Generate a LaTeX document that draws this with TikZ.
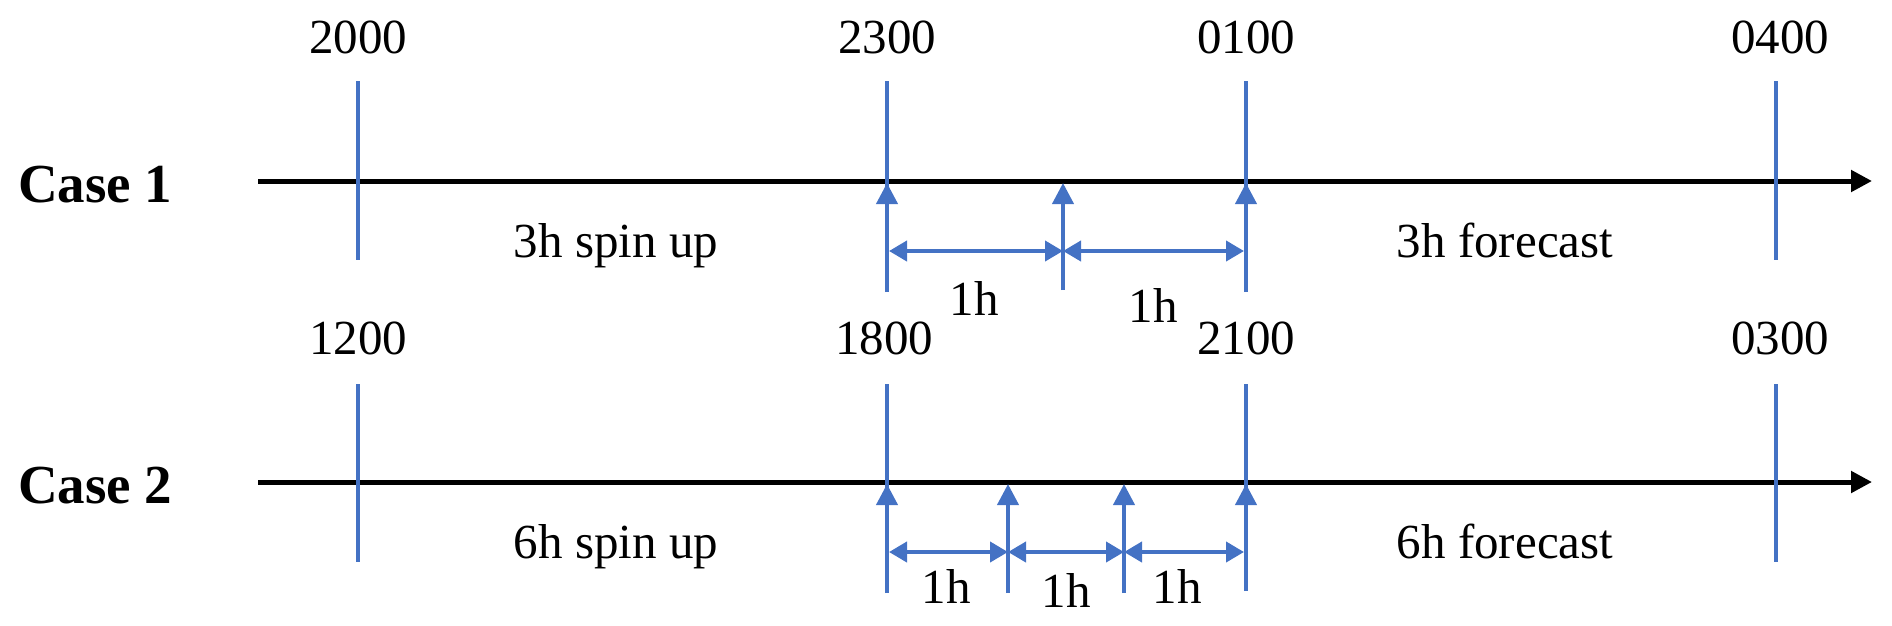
\documentclass[tikz,border=0pt]{standalone}
\usepackage{fontspec}
\setmainfont{Liberation Serif}
\usetikzlibrary{arrows.meta}
\definecolor{tickblue}{HTML}{4472C4}
\begin{document}
\begin{tikzpicture}[x=1pt,y=-1pt,
  lbl/.style={inner sep=0pt, anchor=base, font=\fontsize{49}{58}\selectfont},
  casel/.style={inner sep=0pt, anchor=base west, font=\fontsize{55}{64}\selectfont\bfseries},
  axisline/.style={line width=5pt, black, -{Triangle[length=21pt,width=21pt]}},
  tickline/.style={line width=4pt, tickblue},
  uparrow/.style={line width=4pt, tickblue, -{Triangle[length=21pt,width=21pt]}},
  spanarrow/.style={line width=4pt, tickblue, {Triangle[length=18pt,width=20pt]}-{Triangle[length=18pt,width=20pt]}},
]
\useasboundingbox (0,0) rectangle (1892,625);

% ---------------- Case 1 ----------------
\node[casel] (case1) at (18,202) {Case 1};
\coordinate (a1s) at (258,181);
\coordinate (a1e) at (1872,181);
\draw[axisline] (a1s) -- (a1e);

\coordinate (t1aT) at (358,81);  \coordinate (t1aB) at (358,260);
\coordinate (t1bT) at (887,81);  \coordinate (t1bB) at (887,292);
\coordinate (t1cT) at (1246,81); \coordinate (t1cB) at (1246,292);
\coordinate (t1dT) at (1776,81); \coordinate (t1dB) at (1776,260);
\draw[tickline] (t1aT) -- (t1aB);
\draw[tickline] (t1bT) -- (t1bB);
\draw[tickline] (t1cT) -- (t1cB);
\draw[tickline] (t1dT) -- (t1dB);

\coordinate (u1aB) at (887,292);  \coordinate (u1aT) at (887,183);
\coordinate (u1bB) at (1063,290); \coordinate (u1bT) at (1063,183);
\coordinate (u1cB) at (1246,292); \coordinate (u1cT) at (1246,183);
\draw[uparrow] (u1aB) -- (u1aT);
\draw[uparrow] (u1bB) -- (u1bT);
\draw[uparrow] (u1cB) -- (u1cT);

\coordinate (h1a) at (889,251);
\coordinate (h1b) at (1063,251);
\coordinate (h1c) at (1244,251);
\draw[spanarrow] (h1a) -- (h1b);
\draw[spanarrow] (h1b) -- (h1c);

\node[lbl] (l2000) at (358,53) {2000};
\node[lbl] (l2300) at (887,53) {2300};
\node[lbl] (l0100) at (1246,53) {0100};
\node[lbl] (l0400) at (1780,53) {0400};
\node[lbl] (spin1) at (616,257) {3h spin up};
\node[lbl] (fc1) at (1505,257) {3h forecast};
\node[lbl] (h1l) at (974,315) {1h};
\node[lbl] (h1r) at (1153,322) {1h};

% ---------------- Case 2 ----------------
\node[casel] (case2) at (18,503) {Case 2};
\coordinate (a2s) at (258,482);
\coordinate (a2e) at (1872,482);
\draw[axisline] (a2s) -- (a2e);

\coordinate (t2aT) at (358,384);  \coordinate (t2aB) at (358,562);
\coordinate (t2bT) at (887,384);  \coordinate (t2bB) at (887,593);
\coordinate (t2cT) at (1246,384); \coordinate (t2cB) at (1246,591);
\coordinate (t2dT) at (1776,384); \coordinate (t2dB) at (1776,562);
\draw[tickline] (t2aT) -- (t2aB);
\draw[tickline] (t2bT) -- (t2bB);
\draw[tickline] (t2cT) -- (t2cB);
\draw[tickline] (t2dT) -- (t2dB);

\coordinate (u2aB) at (887,593);  \coordinate (u2aT) at (887,484);
\coordinate (u2bB) at (1008,593); \coordinate (u2bT) at (1008,484);
\coordinate (u2cB) at (1124,593); \coordinate (u2cT) at (1124,484);
\coordinate (u2dB) at (1246,591); \coordinate (u2dT) at (1246,484);
\draw[uparrow] (u2aB) -- (u2aT);
\draw[uparrow] (u2bB) -- (u2bT);
\draw[uparrow] (u2cB) -- (u2cT);
\draw[uparrow] (u2dB) -- (u2dT);

\coordinate (h2a) at (889,552);
\coordinate (h2b) at (1008,552);
\coordinate (h2c) at (1124,552);
\coordinate (h2d) at (1244,552);
\draw[spanarrow] (h2a) -- (h2b);
\draw[spanarrow] (h2b) -- (h2c);
\draw[spanarrow] (h2c) -- (h2d);

\node[lbl] (l1200) at (358,354) {1200};
\node[lbl] (l1800) at (884,354) {1800};
\node[lbl] (l2100) at (1246,354) {2100};
\node[lbl] (l0300) at (1780,354) {0300};
\node[lbl] (spin2) at (616,558) {6h spin up};
\node[lbl] (fc2) at (1505,558) {6h forecast};
\node[lbl] (h2l) at (946,603) {1h};
\node[lbl] (h2m) at (1066,607) {1h};
\node[lbl] (h2r) at (1177,603) {1h};
\end{tikzpicture}
\end{document}
